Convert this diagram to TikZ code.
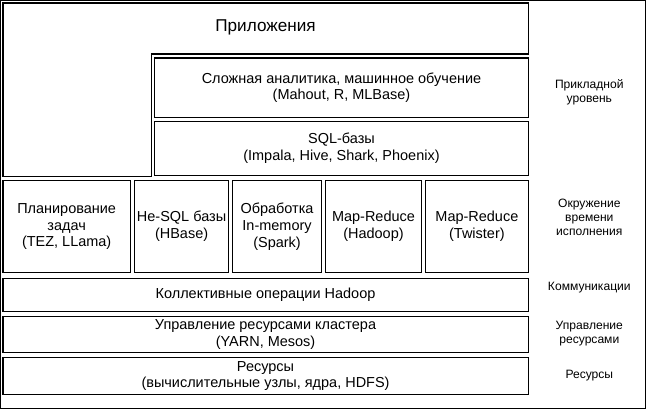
\documentclass[tikz,border=0pt]{standalone}
\usepackage{fontspec}
\setmainfont{Liberation Sans}
\begin{document}
\begin{tikzpicture}[x=0.025cm,y=-0.025cm,
	blk/.style={draw, line width=1.2pt},
	txt/.style={align=center, font=\fontsize{10.3}{12}\selectfont},
	lvl/.style={align=center, font=\fontsize{8.6}{10}\selectfont}]
		% рамка
		\draw [line width=1pt] ( 0, 0 ) rectangle ( 645, 408 );

		% прикладной уровень
		\draw [blk] ( 2, 2 ) -- ( 528, 2 ) -- ( 528, 53 ) -- ( 151, 53 ) -- ( 151, 176 ) -- ( 2, 176 ) -- cycle;
		\node [txt, font=\fontsize{12.2}{14}\selectfont] (app) at ( 265, 27 ) {Приложения};
		\draw [blk] ( 154, 57 ) rectangle ( 528, 117 ) node [txt, midway] (ml) {Сложная аналитика, машинное обучение\\(Mahout, R, MLBase)};
		\draw [blk] ( 154, 121 ) rectangle ( 528, 175 ) node [txt, midway] (sql) {SQL-базы\\(Impala, Hive, Shark, Phoenix)};

		% окружение времени исполнения
		\draw [blk] ( 2, 180 ) rectangle ( 130, 272 ) node [txt, midway] (sched) {Планирование\\задач\\(TEZ, LLama)};
		\draw [blk] ( 134, 180 ) rectangle ( 228, 272 ) node [txt, midway] (nosql) {Не-SQL базы\\(HBase)};
		\draw [blk] ( 232, 180 ) rectangle ( 321, 272 ) node [txt, midway] (spark) {Обработка\\In-memory\\(Spark)};
		\draw [blk] ( 325, 180 ) rectangle ( 421, 272 ) node [txt, midway] (hadoop) {Map-Reduce\\(Hadoop)};
		\draw [blk] ( 425, 180 ) rectangle ( 528, 272 ) node [txt, midway] (twister) {Map-Reduce\\(Twister)};

		% коммуникации, ресурсы
		\draw [blk] ( 2, 278 ) rectangle ( 528, 311 ) node [txt, midway] (coll) {Коллективные операции Hadoop};
		\draw [blk] ( 2, 316 ) rectangle ( 528, 352 ) node [txt, midway] (yarn) {Управление ресурсами кластера\\(YARN, Mesos)};
		\draw [blk] ( 2, 357 ) rectangle ( 528, 394 ) node [txt, midway] (res) {Ресурсы\\(вычислительные узлы, ядра, HDFS)};

		% уровни
		\node [lvl] (l1) at ( 589, 92 ) {Прикладной\\уровень};
		\node [lvl] (l2) at ( 589, 217 ) {Окружение\\времени\\исполнения};
		\node [lvl] (l3) at ( 589, 287 ) {Коммуникации};
		\node [lvl] (l4) at ( 589, 333 ) {Управление\\ресурсами};
		\node [lvl] (l5) at ( 589, 375 ) {Ресурсы};
\end{tikzpicture}
\end{document}
